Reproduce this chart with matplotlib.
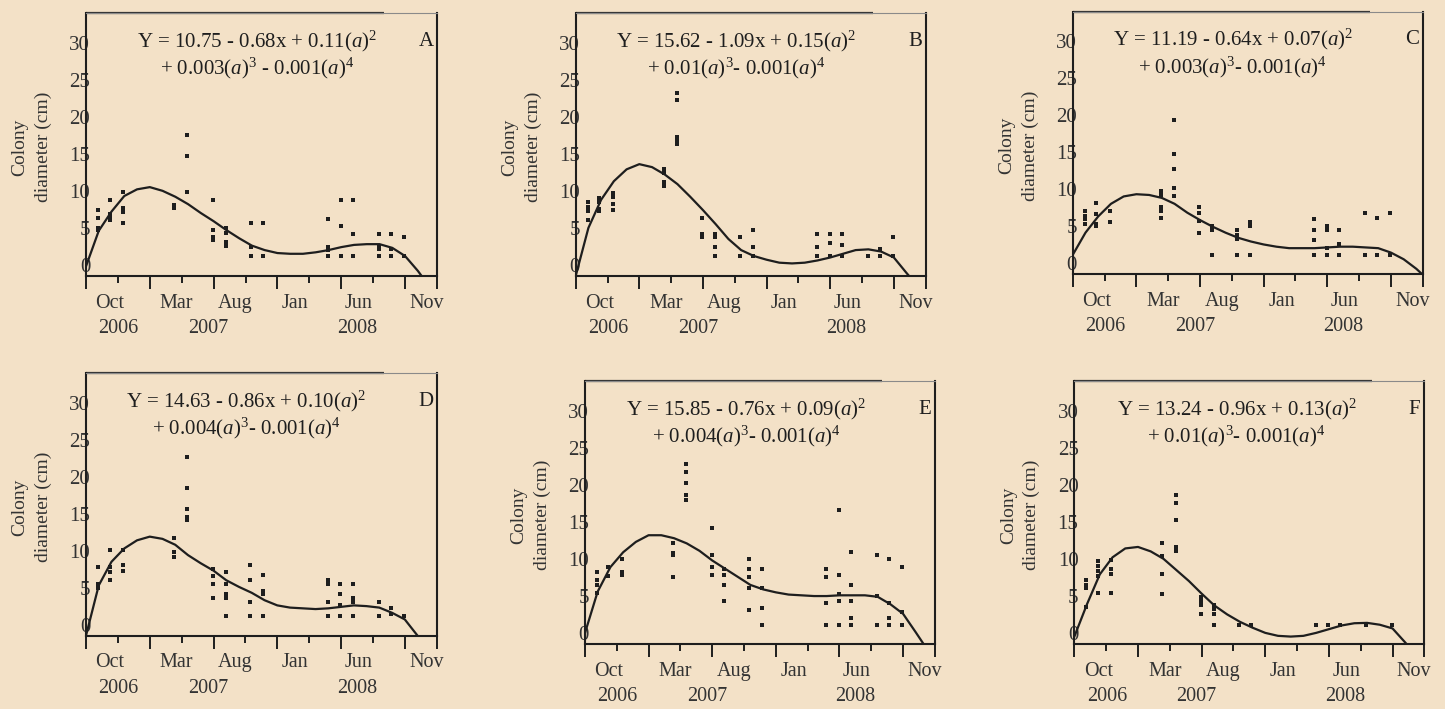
import matplotlib

matplotlib.use("Agg")

import matplotlib.pyplot as plt
import matplotlib.transforms as mtransforms

plt.rcParams["font.family"] = ["Liberation Serif", "DejaVu Serif"]
plt.rcParams["mathtext.fontset"] = "custom"
plt.rcParams["mathtext.rm"] = "Liberation Serif"
plt.rcParams["mathtext.it"] = "Liberation Serif:italic"

BG = "#f3e1c7"
INK = "#1e1e1e"

# months since Aug 2006 at which colonies were measured
sample_months = [0.95, 1.85, 2.9, 6.9, 7.95, 9.95, 10.95, 12.9, 13.9,
                 18.95, 19.95, 20.9, 22.95, 23.9, 24.95]

month_names = ["Oct", "Mar", "Aug", "Jan", "Jun", "Nov"]
month_pos = [1.88, 7.1, 11.7, 16.4, 21.35, 26.7]
year_names = ["2006", "2007", "2008"]
year_pos = [2.55, 9.6, 21.25]

y_ticks = [0, 5, 10, 15, 20, 25, 30]

panel_letters = ["A", "B", "C", "D", "E", "F"]

eq_line1 = [
    r"Y = 10.75 - 0.68x + 0.11($a$)$^2$",
    r"Y = 15.62 - 1.09x + 0.15($a$)$^2$",
    r"Y = 11.19 - 0.64x + 0.07($a$)$^2$",
    r"Y = 14.63 - 0.86x + 0.10($a$)$^2$",
    r"Y = 15.85 - 0.76x + 0.09($a$)$^2$",
    r"Y = 13.24 - 0.96x + 0.13($a$)$^2$",
]
eq_line2 = [
    r"+ 0.003($a$)$^3$ - 0.001($a$)$^4$",
    r"+ 0.01($a$)$^3$- 0.001($a$)$^4$",
    r"+ 0.003($a$)$^3$- 0.001($a$)$^4$",
    r"+ 0.004($a$)$^3$- 0.001($a$)$^4$",
    r"+ 0.004($a$)$^3$- 0.001($a$)$^4$",
    r"+ 0.01($a$)$^3$- 0.001($a$)$^4$",
]

# colony diameters (cm), one list per sampling date
pts_A = [[7.4, 6.3, 5.0, 4.7], [8.7, 6.9, 6.5, 6.1], [9.8, 7.7, 7.2, 5.6],
         [8.1, 7.7], [17.6, 14.7, 9.8], [8.7, 4.7, 3.7, 3.4],
         [5.0, 4.3, 3.1, 2.6], [5.6, 2.4, 1.2], [5.6, 1.2],
         [6.2, 2.4, 2.0, 1.2], [8.7, 5.2, 1.2], [8.7, 4.2, 1.2],
         [4.2, 2.6, 2.2, 1.2], [4.2, 2.2, 1.2], [3.7, 1.2]]
pts_B = [[8.5, 7.8, 7.3, 6.0], [9.0, 8.5, 7.6, 7.3], [9.7, 9.2, 8.2, 7.4],
         [12.9, 12.4, 11.2, 10.7], [23.2, 22.2, 17.2, 16.8, 16.3],
         [6.3, 4.2, 3.7], [4.2, 3.7, 2.4, 1.2], [3.7, 1.2], [4.7, 2.4, 1.2],
         [4.2, 2.4, 1.2], [4.2, 3.0, 1.2], [4.2, 2.7, 1.2], [1.2],
         [2.2, 1.2], [3.7, 1.2]]
pts_C = [[7.0, 6.4, 5.9, 5.3], [8.1, 6.6, 5.3, 5.0], [7.0, 5.5],
         [9.7, 9.2, 7.6, 7.0, 6.1], [19.3, 14.7, 12.7, 10.1, 9.1],
         [7.6, 6.8, 5.7, 4.1], [5.0, 4.4, 1.1], [4.4, 3.8, 3.2, 1.1],
         [5.5, 5.0, 1.1], [6.0, 4.5, 3.1, 1.1], [5.0, 4.5, 2.0, 1.1],
         [4.5, 2.5, 1.1], [6.8, 1.1], [6.1, 1.1], [6.8, 1.1]]
pts_D = [[7.8, 5.5, 5.0], [10.1, 7.8, 7.1, 6.1], [10.1, 8.0, 7.2],
         [11.7, 9.8, 9.1], [22.7, 18.5, 15.6, 14.5, 14.2],
         [7.5, 6.6, 5.5, 3.6], [7.1, 5.5, 4.2, 3.6, 1.2],
         [8.1, 6.1, 3.1, 1.2], [6.7, 4.6, 4.2, 1.2], [6.1, 5.5, 3.1, 1.2],
         [5.5, 4.2, 2.6, 1.2], [5.5, 3.6, 3.1, 1.2], [3.1, 1.2],
         [2.2, 1.5], [1.2]]
pts_E = [[8.2, 7.1, 6.5, 5.4], [8.9, 7.7], [10.0, 8.3, 7.9],
         [12.1, 10.8, 10.5, 7.6], [22.8, 21.7, 20.2, 18.6, 18.0],
         [14.2, 10.5, 8.9, 7.9], [8.6, 7.9, 6.5, 4.4],
         [10.0, 8.6, 7.6, 6.1, 3.1], [8.6, 6.1, 3.4, 1.1],
         [8.6, 7.6, 4.1, 1.1], [16.6, 7.9, 5.3, 4.4, 1.1],
         [10.9, 6.5, 4.4, 2.0, 1.1], [10.5, 5.0, 1.1],
         [10.0, 4.0, 2.0, 1.1], [8.9, 2.9, 1.1]]
pts_F = [[7.1, 6.5, 6.1, 3.5], [9.7, 9.0, 8.3, 7.7, 5.4],
         [9.8, 8.6, 7.9, 5.4], [12.1, 10.4, 7.9, 5.3],
         [18.6, 17.6, 15.2, 11.6, 11.1], [4.9, 4.3, 3.8, 2.6],
         [3.8, 3.2, 2.5, 1.1], [1.1], [1.1], [1.1], [1.1], [1.1], [1.1],
         [], [1.1]]

# fitted curves, one value per month
curve_x_A = [0, 1, 2, 3, 4, 5, 6, 7, 8, 9, 10, 11, 12, 13, 14, 15, 16, 17,
             18, 19, 20, 21, 22, 23, 24, 25, 26, 26.3]
curve_A = [-0.2, 4.6, 7.2, 9.3, 10.2, 10.5, 10.0, 9.2, 8.2, 7.0, 5.9, 4.7,
           3.6, 2.6, 2.0, 1.6, 1.5, 1.5, 1.7, 2.0, 2.4, 2.7, 2.8, 2.8, 2.3,
           1.2, -0.8, -1.5]
curve_x_B = [0, 1, 2, 3, 4, 5, 6, 7, 8, 9, 10, 11, 12, 13, 14, 15, 16, 17,
             18, 19, 20, 21, 22, 23, 24, 25, 26, 26.2]
curve_B = [-1.5, 5.0, 8.8, 11.3, 12.9, 13.6, 13.2, 12.2, 10.9, 9.2, 7.4,
           5.5, 3.5, 2.0, 1.2, 0.7, 0.3, 0.2, 0.3, 0.6, 1.0, 1.5, 2.0, 2.1,
           1.8, 1.0, -1.1, -1.5]
curve_x_C = [0, 1, 2, 3, 4, 5, 6, 7, 8, 9, 10, 11, 12, 13, 14, 15, 16, 17,
             18, 19, 20, 21, 22, 23, 24, 25, 26, 27, 27.5]
curve_C = [1.1, 4.1, 6.3, 8.0, 9.0, 9.3, 9.2, 8.8, 8.0, 6.8, 5.8, 4.9, 4.1,
           3.4, 2.9, 2.5, 2.2, 2.0, 2.0, 2.0, 2.1, 2.2, 2.2, 2.1, 2.0, 1.4,
           0.5, -0.8, -1.6]
curve_x_D = [0, 1, 2, 3, 4, 5, 6, 7, 8, 9, 10, 11, 12, 13, 14, 15, 16, 17,
             18, 19, 20, 21, 22, 23, 24, 25, 26]
curve_D = [-1.5, 5.3, 8.5, 10.3, 11.4, 11.9, 11.6, 10.8, 9.4, 8.3, 7.3, 6.0,
           5.1, 4.3, 3.3, 2.6, 2.3, 2.2, 2.1, 2.2, 2.4, 2.6, 2.5, 2.3, 1.6,
           0.7, -1.5]
curve_x_E = [0, 1, 2, 3, 4, 5, 6, 7, 8, 9, 10, 11, 12, 13, 14, 15, 16, 17,
             18, 19, 20, 21, 22, 23, 24, 25, 26, 26.7]
curve_E = [0.0, 5.6, 8.9, 10.9, 12.3, 13.2, 13.2, 12.8, 12.1, 11.1, 9.8, 8.7,
           7.6, 6.5, 5.9, 5.5, 5.2, 5.1, 5.0, 5.0, 5.1, 5.1, 5.1, 4.9, 3.9,
           2.6, 0.1, -1.7]
curve_x_F = [0, 1, 2, 3, 4, 5, 6, 7, 8, 9, 10, 11, 12, 13, 14, 15, 16, 17,
             18, 19, 20, 21, 22, 23, 24, 25, 26, 26.2]
curve_F = [-0.5, 3.9, 7.9, 10.2, 11.4, 11.6, 11.0, 10.0, 8.5, 7.0, 5.3, 3.7,
           2.5, 1.5, 0.7, 0.0, -0.4, -0.5, -0.4, 0.0, 0.5, 1.0, 1.3, 1.35,
           1.1, 0.6, -1.3, -1.7]

points = [pts_A, pts_B, pts_C, pts_D, pts_E, pts_F]
curves_x = [curve_x_A, curve_x_B, curve_x_C, curve_x_D, curve_x_E, curve_x_F]
curves_y = [curve_A, curve_B, curve_C, curve_D, curve_E, curve_F]

# axes boxes in figure fractions (left, bottom, width, height)
boxes = [
    [0.0595, 0.6107, 0.2429, 0.3709],
    [0.3984, 0.6107, 0.2422, 0.3709],
    [0.7424, 0.6135, 0.2422, 0.3700],
    [0.0595, 0.1034, 0.2427, 0.3701],
    [0.4048, 0.0913, 0.2422, 0.3714],
    [0.7435, 0.0917, 0.2422, 0.3709],
]
eq_x = [0.487, 0.458, 0.457, 0.458, 0.462, 0.464]

fig = plt.figure(figsize=(14.45, 7.09), dpi=100, facecolor=BG)

for i in range(6):
    ax = fig.add_axes(boxes[i])
    ax.set_facecolor(BG)

    xs, ys = [], []
    for m, col in zip(sample_months, points[i]):
        for v in col:
            xs.append(m)
            ys.append(v)
    ax.plot(xs, ys, ls="none", marker="s", ms=2.3, mew=0, color=INK)
    ax.plot(curves_x[i], curves_y[i], color=INK, lw=1.6)

    ax.set_xlim(0, 27.5)
    ax.set_ylim(-1.5, 34)

    ax.set_xticks([0, 5, 10, 15, 20, 25, 27.5], labels=[])
    ax.set_xticks([2.5, 7.5, 12.5, 17.5, 22.5], minor=True)
    ax.tick_params(axis="x", which="major", direction="out", length=9,
                   width=1.4, color=INK)
    ax.tick_params(axis="x", which="minor", direction="out", length=5,
                   width=1.4, color=INK)

    ax.set_yticks(y_ticks)
    ax.tick_params(axis="y", length=0, pad=-3, labelsize=15,
                   labelcolor="#333333")

    for s in ["left", "bottom", "right"]:
        ax.spines[s].set_linewidth(1.5)
        ax.spines[s].set_color(INK)
    ax.spines["top"].set_linewidth(0.8)
    ax.spines["top"].set_color("#8a8a8a")
    ax.plot([0, 0.85], [1, 1], transform=ax.transAxes, color="#333333",
            lw=1.6, clip_on=False, solid_capstyle="butt")

    xtrans = mtransforms.blended_transform_factory(ax.transData, ax.transAxes)
    ytrans = mtransforms.blended_transform_factory(ax.transAxes, ax.transData)
    for name, pos in zip(month_names, month_pos):
        ax.text(pos, -0.103, name, transform=xtrans, ha="center", va="center",
                fontsize=14.5, color="#333333")
    for name, pos in zip(year_names, year_pos):
        ax.text(pos, -0.2, name, transform=xtrans, ha="center", va="center",
                fontsize=14.5, color="#333333")

    ax.text(-0.155, 0.49, "Colony\ndiameter (cm)", transform=ax.transAxes,
            rotation=90, ha="center", va="center", fontsize=14,
            linespacing=1.45, color="#333333")

    ax.text(eq_x[i], 30.2, eq_line1[i], transform=ytrans, ha="center",
            va="center", fontsize=15, color=INK)
    ax.text(eq_x[i], 26.5, eq_line2[i], transform=ytrans, ha="center",
            va="center", fontsize=15, color=INK)
    ax.text(0.97, 30.2, panel_letters[i], transform=ytrans, ha="center",
            va="center", fontsize=15, color=INK)

fig.savefig("out.png", dpi=100, facecolor=BG)
